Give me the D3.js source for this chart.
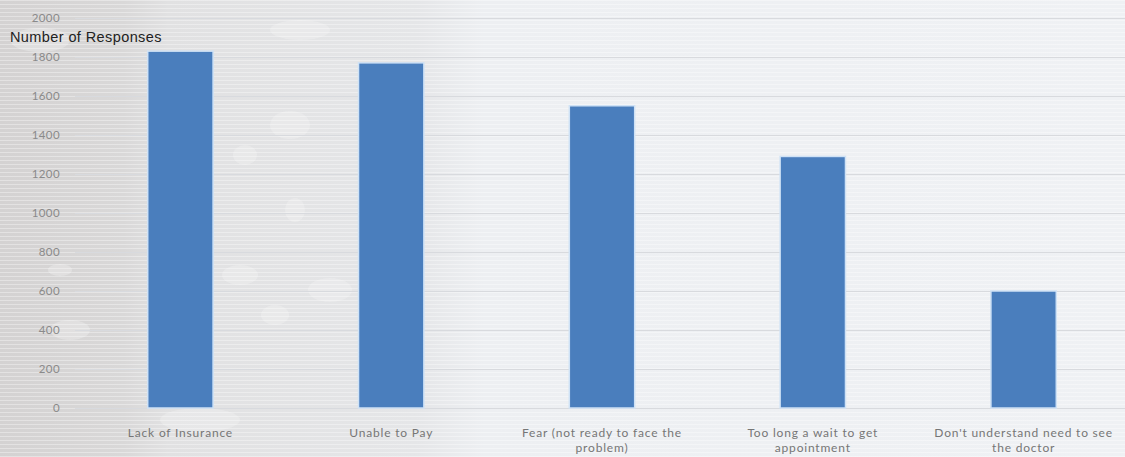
<!DOCTYPE html>
<html>
<head>
<meta charset="utf-8">
<script src="https://cdn.jsdelivr.net/npm/d3@7"></script>
<style>
  body { margin: 0; background: #eef0f3; }
  svg { display: block; }
</style>
</head>
<body>
<div id="chart"></div>
<script>
////////////////////////////////////////////////////////////////////////
//
// Bar chart of reasons for not seeking help (number of responses)
//
////////////////////////////////////////////////////////////////////////

// chart data
var categories = ["Lack of Insurance", "Unable to Pay", "Fear (not ready to face the problem)",
                  "Too long a wait to get appointment", "Don't understand need to see the doctor"];
var responses = [1830, 1770, 1550, 1290, 600];
var yTicks = [0, 200, 400, 600, 800, 1000, 1200, 1400, 1600, 1800, 2000];

var width = 1125;
var height = 457;

var svg = d3.select("#chart")
  .append("svg")
  .attr("width", width)
  .attr("height", height);

// background: grey on the left fading to pale blue-grey, with thin stripes
var defs = svg.append("defs");
var bgGrad = defs.append("linearGradient").attr("id", "bgGrad");
bgGrad.append("stop").attr("offset", "0%").attr("stop-color", "#d4d2d2");
bgGrad.append("stop").attr("offset", "11%").attr("stop-color", "#d9d8d8");
bgGrad.append("stop").attr("offset", "15%").attr("stop-color", "#e1e1e2");
bgGrad.append("stop").attr("offset", "37%").attr("stop-color", "#e5e6e8");
bgGrad.append("stop").attr("offset", "43%").attr("stop-color", "#edeff2");
bgGrad.append("stop").attr("offset", "100%").attr("stop-color", "#eff1f4");

var stripes = defs.append("pattern")
  .attr("id", "stripes")
  .attr("width", 8).attr("height", 4)
  .attr("patternUnits", "userSpaceOnUse");
stripes.append("rect").attr("width", 8).attr("height", 1).attr("fill", "#ffffff").attr("opacity", 0.35);

svg.append("rect").attr("width", width).attr("height", height).attr("fill", "url(#bgGrad)");

// a few soft light patches for the camouflage look on the left
var patches = [[290, 125, 20, 14], [245, 155, 12, 10], [295, 210, 10, 12], [240, 275, 18, 10],
               [275, 315, 14, 10], [330, 290, 22, 12], [60, 270, 12, 6], [70, 330, 20, 10],
               [40, 40, 30, 12], [300, 30, 30, 10], [390, 200, 14, 10], [200, 420, 40, 12]];
svg.append("g").selectAll("ellipse")
  .data(patches)
  .enter()
  .append("ellipse")
  .attr("cx", d => d[0]).attr("cy", d => d[1])
  .attr("rx", d => d[2]).attr("ry", d => d[3])
  .attr("fill", "#f3f3f4")
  .attr("opacity", 0.35);

svg.append("rect").attr("width", width).attr("height", height).attr("fill", "url(#stripes)");

// scales
var x = d3.scaleBand()
  .domain(categories)
  .range([75, 1129])
  .paddingInner(0.69)
  .paddingOuter(0.345);

var y = d3.scaleLinear()
  .domain([0, 2000])
  .range([408, 18]);

// gridlines
svg.append("g")
  .selectAll("line")
  .data(yTicks)
  .enter()
  .append("line")
  .attr("x1", 75).attr("x2", width)
  .attr("y1", d => Math.round(y(d)) + 0.5)
  .attr("y2", d => Math.round(y(d)) + 0.5)
  .attr("stroke", "#d8dade")
  .attr("stroke-width", 1);

// y axis labels
var yAxis = svg.append("g")
  .attr("transform", "translate(60,0)")
  .call(d3.axisLeft(y).tickValues(yTicks).tickFormat(d3.format("d")).tickSize(0).tickPadding(0));
yAxis.select(".domain").remove();
yAxis.selectAll("text")
  .attr("fill", "#8a8a8a")
  .style("font-family", "Lato, sans-serif")
  .style("font-size", "11.5px")
  .style("letter-spacing", "0.4px");

// bars
svg.append("g")
  .selectAll("rect")
  .data(responses)
  .enter()
  .append("rect")
  .attr("x", (d, i) => x(categories[i]))
  .attr("y", d => y(d))
  .attr("width", x.bandwidth())
  .attr("height", d => y(0) - y(d))
  .attr("fill", "#4a7ebd")
  .attr("stroke", "#cfe2f6")
  .attr("stroke-width", 1.5);

// category labels, wrapped
var xAxis = svg.append("g")
  .attr("transform", "translate(0,408)")
  .call(d3.axisBottom(x).tickSize(0).tickPadding(20));
xAxis.select(".domain").remove();
xAxis.selectAll("text")
  .attr("fill", "#767676")
  .style("font-family", "Lato, sans-serif")
  .style("font-size", "12px")
  .style("letter-spacing", "0.8px")
  .call(wrap, 196);

// axis title
svg.append("text")
  .attr("x", 10)
  .attr("y", 42)
  .attr("fill", "#222")
  .style("font-family", "'Liberation Sans', Arial, sans-serif")
  .style("font-size", "14.5px")
  .style("letter-spacing", "0.4px")
  .text("Number of Responses");


////////////////////////////////////////////////////////////////////////
//
// Wrap the tick labels onto several lines
//
////////////////////////////////////////////////////////////////////////
function wrap(texts, maxWidth)
  {
  texts.each(function()
    {
    var text = d3.select(this);
    var words = text.text().split(/\s+/);
    var line = [];
    var lineNum = 0;
    var y0 = text.attr("y");
    var dy = parseFloat(text.attr("dy"));
    text.text(null);
    var tspan = text.append("tspan").attr("x", 0).attr("y", y0).attr("dy", dy + "em");

    words.forEach(function(word)
      {
      line.push(word);
      tspan.text(line.join(" "));
      if(tspan.node().getComputedTextLength() > maxWidth && line.length > 1)
        {
        line.pop();
        tspan.text(line.join(" "));
        line = [word];
        lineNum++;
        tspan = text.append("tspan").attr("x", 0).attr("y", y0)
          .attr("dy", (lineNum * 1.25 + dy) + "em").text(word);
        }
      });
    });

  return;
  }
</script>
</body>
</html>
